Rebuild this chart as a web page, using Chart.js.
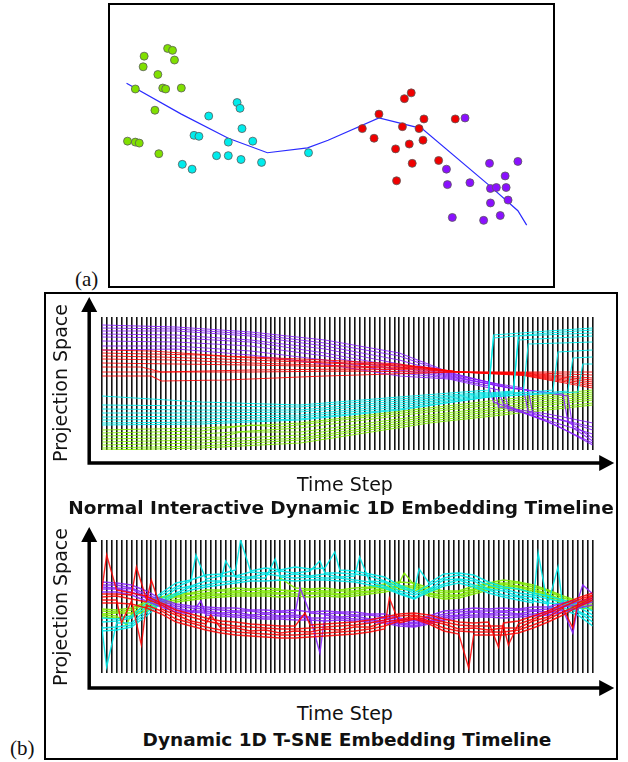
<!DOCTYPE html>
<html>
<head>
<meta charset="utf-8">
<script src="https://cdn.jsdelivr.net/npm/chart.js@4.4.1/dist/chart.umd.min.js"></script>
<style>
  html, body { margin: 0; padding: 0; background: #fff; }
  body { width: 628px; height: 762px; position: relative; overflow: hidden;
         font-family: "DejaVu Sans", Verdana, sans-serif; color: #111; }
  canvas { position: absolute; display: block; }
  .box { position: absolute; box-sizing: border-box; border: 2px solid #000; }
  .panel { position: absolute; font-family: "Liberation Serif", "Times New Roman", serif;
           font-size: 21px; line-height: 22px; }
  .axis { position: absolute; font-size: 19px; line-height: 24px; text-align: center; white-space: nowrap; }
  .title { position: absolute; font-size: 18.5px; font-weight: bold; line-height: 22px;
           text-align: center; white-space: nowrap; }
  .rot { width: 200px; transform: rotate(-90deg); }
</style>
</head>
<body>

<div class="box" style="left:108px;top:3px;width:447px;height:285px;"></div>
<canvas id="scatter" width="443" height="281" style="left:110px;top:5px;"></canvas>
<div class="panel" style="left:75px;top:268px;">(a)</div>

<div class="box" style="left:44px;top:292px;width:574px;height:468px;"></div>
<canvas id="normal" width="570" height="180" style="left:46px;top:294px;"></canvas>
<canvas id="tsne" width="570" height="185" style="left:46px;top:515px;"></canvas>
<div class="panel" style="left:10px;top:737px;">(b)</div>

<div class="axis rot" style="left:-40px;top:371px;">Projection Space</div>
<div class="axis" style="left:145px;width:400px;top:472px;">Time Step</div>
<div class="title" style="left:41px;width:600px;top:497px;">Normal Interactive Dynamic 1D Embedding Timeline</div>

<div class="axis rot" style="left:-40px;top:595px;">Projection Space</div>
<div class="axis" style="left:145px;width:400px;top:701px;">Time Step</div>
<div class="title" style="left:47px;width:600px;top:729px;">Dynamic 1D T-SNE Embedding Timeline</div>

<script>
'use strict';

// ---- (a) 2D projection: clusters and the path through them
var greenPts = [[55,242],[60,240],[31,234],[30,223],[62,230],[45,215],[22,200],[50,201],[53,200],
                [69,201],[42,178],[14,146],[22,145],[26,144],[46,133]];
var cyanPts = [[126,186],[129,180],[97,172],[131,159],[82,152],[87,151],[117,145],[142,146],
               [105,131],[117,131],[130,127],[70,122],[80,117],[151,124],[199,134]];
var redPts = [[304,196],[297,190],[271,174],[317,169],[349,169],[254,159],[295,161],[312,159],
              [266,149],[316,147],[288,138],[302,143],[332,126],[305,123],[289,105]];
var purplePts = [[359,170],[384,123],[413,125],[340,117],[400,110],[341,101],[364,103],[385,97],
                 [391,98],[401,98],[403,85],[385,82],[346,67],[378,64],[395,69]];
var pathPts = [[13,206],[69,174],[117,149],[157,134],[198,139],[219,147],[271,170],[315,159],
               [384,100],[413,74],[422,59]];

// ---- (b) top: normal interactive timeline, [time step, position] per line
var topPurple = [
  [[0,127],[15,125],[30,120],[45,112],[60,99],[70,80],[76,72],[79,68],[80,45],[90,38],[99,29]],
  [[0,124],[15,123],[30,118],[45,109],[60,96],[70,79],[78,70],[81,66],[82,42],[92,33],[99,25]],
  [[0,121],[15,121],[30,116],[45,106],[60,92],[70,78],[80,68],[85,64],[86,40],[94,30],[99,22]],
  [[0,118],[15,117],[30,112],[45,103],[60,88],[70,77],[80,66],[86,62],[87,36],[95,24],[99,18]],
  [[0,115],[15,114],[30,110],[45,99],[60,85],[70,76],[82,64],[93,58],[94,30],[99,14]],
  [[0,111],[15,110],[30,106],[45,96],[60,82],[70,75],[84,63],[94,56],[95,24],[99,11]],
  [[0,106],[15,106],[30,101],[45,92],[60,79],[70,74],[78,66],[79,50],[90,30],[99,9]],
  [[0,102],[15,103],[30,97],[45,88],[60,76],[70,73],[80,62],[81,48],[92,26],[99,7]]
];
var topRed = [
  [[0,102],[10,101],[25,96],[45,92],[60,88],[72,80],[85,80],[99,80]],
  [[0,99],[10,98],[20,97],[45,90],[60,87],[72,80],[85,79.5],[99,77]],
  [[0,96],[12,95],[30,92],[50,88],[65,85],[72,80],[85,79],[99,74]],
  [[0,93],[14,92],[30,89],[50,86],[65,84],[72,80],[85,78.5],[99,72]],
  [[0,89],[15,88],[30,87],[50,85],[65,83],[72,80],[85,78],[99,70]],
  [[0,85],[8,85],[12,80],[30,82],[50,83],[65,82],[72,80],[85,77.5],[99,68]],
  [[0,80],[15,80],[30,80],[50,81],[65,80],[72,80],[85,77],[99,66]],
  [[0,76],[10,76],[12,71],[25,72],[45,76],[65,79],[72,80],[85,76.5],[99,64]]
];
var topCyan = [
  [[0,56],[20,50],[40,47],[60,55],[78,62],[79,117],[90,121],[99,124]],
  [[0,47],[20,46],[40,45],[60,53],[78,60],[79,114],[90,119],[99,122]],
  [[0,43],[20,42],[40,42],[60,51],[78,59],[83,61],[84,116],[99,119]],
  [[0,39],[20,39],[40,40],[60,49],[78,58],[83,60],[84,112],[99,116]],
  [[0,35],[20,36],[40,37],[60,47],[78,57],[85,60],[86,108],[99,110]],
  [[0,32],[20,33],[40,35],[60,45],[78,56],[91,62],[92,100],[99,102]],
  [[0,29],[20,30],[40,33],[60,43],[78,55],[94,61],[95,94],[99,95]],
  [[0,27],[20,28],[40,32],[60,42],[78,55],[96,60],[97,88],[99,88]]
];
var topGreen = [
  [[0,22],[20,24],[40,29],[66,44],[80,52],[99,62]],
  [[0,19],[20,21],[30,27],[36,25],[66,42],[99,60]],
  [[0,16],[20,18],[40,24],[66,40],[99,58]],
  [[0,13],[24,15],[28,20],[40,20],[66,37],[99,56]],
  [[0,10],[20,12],[40,17],[66,35],[99,54]],
  [[0,7],[20,9],[40,14],[66,33],[99,52]],
  [[0,4],[20,6],[40,12],[66,31],[99,49]],
  [[0,2],[20,4],[40,9],[66,29],[99,47]]
];

// ---- (b) bottom: t-SNE timeline, sampled every 3 steps, plus single-step spikes [line, step, value]
var tsneTimes = [0,3,6,9,12,15,18,21,24,27,30,33,36,39,42,45,48,51,54,57,60,63,66,69,72,75,78,81,84,87,90,93,96,99];
var tsneCyan = [
  [55,54,57,70,80,90,93,98,99,103,102,105,103,106,104,105,103,102,99,96,88,82,90,99,100,98,91,86,84,80,77,73,69,62],
  [51,52,55,66,78,86,92,94,97,97,101,100,102,100,102,100,100,99,97,92,86,80,88,95,98,94,88,84,80,78,74,71,66,58],
  [47,50,50,63,74,84,87,92,92,96,96,99,97,99,97,99,96,97,92,91,82,78,84,93,94,92,84,82,77,76,70,69,62,55],
  [45,46,48,60,72,80,86,88,91,92,95,95,96,95,96,95,95,93,91,87,80,75,83,89,93,88,83,78,76,72,69,65,61,51],
  [42,43,46,57,70,78,83,86,88,90,92,92,93,92,93,93,92,91,88,85,79,74,81,87,90,86,80,76,73,70,66,63,58,47]
];
var tsneGreen = [
  [64,63,65,71,76,79,80,83,83,85,84,85,84,85,84,85,83,85,86,89,91,90,85,82,82,87,90,93,91,88,83,77,72,72],
  [62,61,63,69,75,77,79,80,82,82,83,82,83,82,83,82,82,82,85,86,90,88,83,80,81,84,89,90,90,86,82,75,71,70],
  [59,60,60,67,72,76,76,79,79,81,80,81,80,82,80,81,79,81,82,85,87,87,80,78,78,83,86,89,87,84,79,73,68,68],
  [58,57,59,64,71,73,75,77,78,79,79,79,79,79,79,79,78,79,81,83,86,85,79,76,77,81,85,87,86,82,78,71,67,66],
  [56,55,57,62,69,71,73,75,76,77,77,77,76,77,76,77,76,77,79,81,84,83,77,74,75,79,83,85,84,80,76,69,65,64]
];
var tsnePurple = [
  [91,90,88,82,74,69,67,66,65,65,63,63,62,63,61,62,61,61,59,59,55,52,57,62,63,65,64,65,64,66,66,70,73,79],
  [88,88,85,79,72,67,65,64,63,62,62,60,61,60,60,59,60,58,58,56,53,50,55,59,61,62,62,62,63,63,64,67,71,75],
  [86,85,84,76,70,65,62,62,60,61,58,59,57,58,56,58,56,57,54,55,50,49,52,57,58,61,59,61,59,62,61,66,68,73],
  [84,84,81,75,68,63,61,60,59,58,57,56,56,56,55,55,55,54,53,52,49,47,51,55,57,58,58,58,58,59,60,63,67,71],
  [81,81,78,72,66,61,59,58,57,56,55,54,54,53,53,52,53,52,51,50,47,46,49,53,55,56,56,55,56,57,58,61,65,68]
];
var tsneRed = [
  [82,83,80,77,70,63,59,55,52,51,49,48,47,47,48,49,50,51,53,56,59,60,58,54,51,50,51,50,52,57,62,69,75,80],
  [79,79,78,74,68,60,56,52,49,47,46,45,44,44,45,46,47,48,50,53,57,58,55,51,48,47,47,47,49,54,60,66,73,78],
  [76,77,74,71,64,58,52,49,45,45,42,43,40,42,41,44,43,46,46,51,53,57,52,49,44,45,43,45,45,52,56,65,70,77],
  [73,73,72,68,62,54,50,46,43,41,40,39,38,38,39,40,41,42,44,47,52,55,51,45,42,41,41,41,43,48,54,61,68,75],
  [70,70,69,65,59,51,47,43,40,38,37,36,35,35,36,37,38,39,41,44,50,54,49,42,39,38,38,38,40,45,51,58,66,73]
];
var tsneCyanSpikes = [[2,1,6],[0,28,133],[1,19,118],[3,35,114],[0,47,121],[2,52,116],[1,44,112],
                      [4,88,120],[3,92,106],[0,64,104],[2,25,112]];
var tsneGreenSpikes = [[1,61,100],[3,5,48],[0,36,95]];
var tsnePurpleSpikes = [[2,44,20],[1,40,85],[3,95,40],[0,97,88],[4,20,72]];
var tsneRedSpikes = [[0,1,118],[1,7,106],[2,10,93],[3,8,28],[4,74,5],[0,80,26],[1,82,28],
                     [2,22,58],[3,4,50],[4,58,75],[0,41,60],[2,95,45]];

var colors = {
  green: '#80e000', cyan: '#00ecec', red: '#f00000', purple: '#8a10ff',
  lineGreen: 'rgba(128,236,0,0.9)', lineCyan: 'rgba(0,234,234,0.9)',
  lineRed: 'rgba(255,0,0,0.85)', linePurple: 'rgba(136,30,255,0.85)'
};

// black axis arrows drawn around the chart area
var arrowAxes = {
  id: 'arrowAxes',
  afterDraw: function (chart, args, opts) {
    var ctx = chart.ctx, a = chart.chartArea;
    var x0 = a.left - opts.gapLeft, y0 = a.bottom + opts.gapBottom;
    var tipY = a.top - opts.overTop, tipX = a.right + opts.overRight;
    ctx.save();
    ctx.strokeStyle = '#000';
    ctx.fillStyle = '#000';
    ctx.lineWidth = 3.5;
    ctx.beginPath();
    ctx.moveTo(x0, y0 + 1.75);
    ctx.lineTo(x0, tipY + 12);
    ctx.moveTo(x0 - 1.75, y0);
    ctx.lineTo(tipX - 12, y0);
    ctx.stroke();
    ctx.beginPath();
    ctx.moveTo(x0, tipY);
    ctx.lineTo(x0 - 8, tipY + 15);
    ctx.lineTo(x0 + 8, tipY + 15);
    ctx.closePath();
    ctx.fill();
    ctx.beginPath();
    ctx.moveTo(tipX, y0);
    ctx.lineTo(tipX - 15, y0 - 8);
    ctx.lineTo(tipX - 15, y0 + 8);
    ctx.closePath();
    ctx.fill();
    ctx.restore();
  }
};

function toXY(list) {
  return list.map(function (p) { return { x: p[0], y: p[1] }; });
}

function pointSet(pts, color) {
  return {
    data: toXY(pts), backgroundColor: color, borderColor: '#5a5a5a', borderWidth: 0.8,
    pointRadius: 4
  };
}

new Chart(document.getElementById('scatter'), {
  type: 'scatter',
  data: {
    datasets: [
      pointSet(greenPts, colors.green),
      pointSet(cyanPts, colors.cyan),
      pointSet(redPts, colors.red),
      pointSet(purplePts, colors.purple),
      { type: 'line', data: toXY(pathPts), borderColor: '#2b2bff', borderWidth: 1.2, pointRadius: 0 }
    ]
  },
  options: {
    responsive: false,
    animation: false,
    layout: { padding: 0 },
    scales: {
      x: { type: 'linear', display: false, min: 1, max: 444 },
      y: { type: 'linear', display: false, min: 1, max: 282 }
    },
    plugins: { legend: { display: false }, tooltip: { enabled: false } }
  }
});

function lineSets(lines, color) {
  return lines.map(function (l) {
    return { data: toXY(l), borderColor: color, borderWidth: 1.2, pointRadius: 0 };
  });
}

function tsneSets(lines, spikes, color) {
  return lines.map(function (vals, i) {
    var pts = tsneTimes.map(function (t, j) { return { x: t, y: vals[j] }; });
    spikes.forEach(function (s) { if (s[0] === i) pts.push({ x: s[1], y: s[2] }); });
    pts.sort(function (p, q) { return p.x - q.x; });
    return { data: pts, borderColor: color, borderWidth: 1.4, pointRadius: 0 };
  });
}

function timeline(id, datasets, yMin, yMax, padTop, padBottom, arrow) {
  return new Chart(document.getElementById(id), {
    type: 'line',
    data: { datasets: datasets },
    options: {
      responsive: false,
      animation: false,
      layout: { padding: { left: 55.7, right: 23.3, top: padTop, bottom: padBottom } },
      elements: { line: { tension: 0 } },
      scales: {
        x: {
          type: 'linear', min: 0, max: 99,
          ticks: { display: false, stepSize: 1 },
          grid: { color: '#141414', lineWidth: 1.6, drawTicks: false },
          border: { display: false }
        },
        y: { type: 'linear', display: false, min: yMin, max: yMax }
      },
      plugins: { legend: { display: false }, tooltip: { enabled: false }, arrowAxes: arrow }
    },
    plugins: [arrowAxes]
  });
}

timeline('normal',
  [].concat(lineSets(topCyan, colors.lineCyan), lineSets(topRed, colors.lineRed),
            lineSets(topPurple, colors.linePurple), lineSets(topGreen, colors.lineGreen)),
  2, 135, 23, 24,
  { gapLeft: 12.5, gapBottom: 13, overTop: 20, overRight: 21.5 });

timeline('tsne',
  [].concat(tsneSets(tsneRed, tsneRedSpikes, colors.lineRed),
            tsneSets(tsnePurple, tsnePurpleSpikes, colors.linePurple),
            tsneSets(tsneCyan, tsneCyanSpikes, colors.lineCyan),
            tsneSets(tsneGreen, tsneGreenSpikes, colors.lineGreen)),
  0, 133, 25, 27,
  { gapLeft: 12.5, gapBottom: 15, overTop: 13, overRight: 21.5 });
</script>
</body>
</html>
